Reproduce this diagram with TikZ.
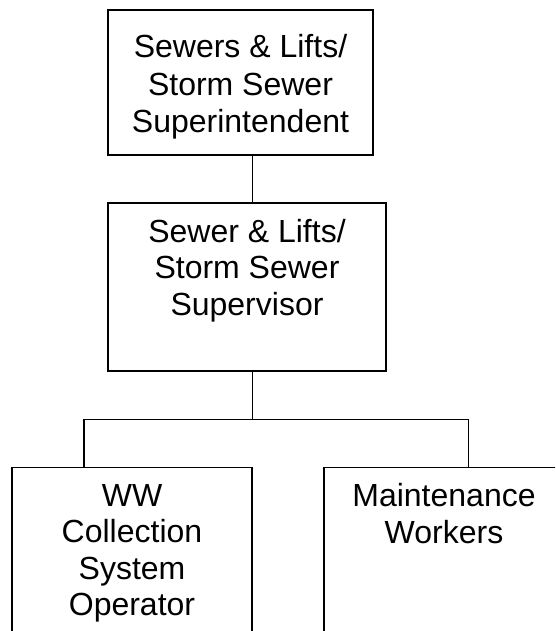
\documentclass[tikz,border=0pt]{standalone}
\usepackage{fontspec}
\setmainfont{Liberation Sans}
\begin{document}
\begin{tikzpicture}[x=1pt,y=-1pt,
  box/.style={draw, line width=1.8pt, rectangle, inner sep=0pt, outer sep=0pt, anchor=north west},
  lbl/.style={align=center, inner sep=0pt, anchor=base},
  wire/.style={line width=1.8pt}]
\useasboundingbox (0,0) rectangle (555,631);
\clip (0,0) rectangle (555,631);
\node[box, minimum width=265pt, minimum height=145pt] (top) at (108,10) {};
\node[box, minimum width=278pt, minimum height=168pt] (mid) at (108,203) {};
\node[box, minimum width=240pt, minimum height=227pt] (left) at (12,467.5) {};
\node[box, minimum width=240pt, minimum height=227pt] (right) at (324,467.5) {};
\node[lbl, font=\fontsize{32}{37.5}\selectfont] (ttop) at (240.5,133) {Sewers \& Lifts/\\Storm Sewer\\Superintendent};
\node[lbl, font=\fontsize{32}{36.5}\selectfont] (tmid) at (247,315) {Sewer \& Lifts/\\Storm Sewer\\Supervisor};
\node[lbl, font=\fontsize{32}{36.5}\selectfont] (tleft) at (132,615.5) {WW\\Collection\\System\\Operator};
\node[lbl, font=\fontsize{32}{36.8}\selectfont] (tright) at (444,543.5) {Maintenance\\Workers};
\coordinate (spine) at (252.5,0);
\coordinate (busL) at (84,419.5);
\coordinate (busR) at (468.5,419.5);
\draw[wire] (top.south -| spine) -- (mid.north -| spine);
\draw[wire] (mid.south -| spine) -- (spine |- busL);
\draw[wire] (left.north -| busL) -- (busL) -- (busR) -- (right.north -| busR);
\end{tikzpicture}
\end{document}
